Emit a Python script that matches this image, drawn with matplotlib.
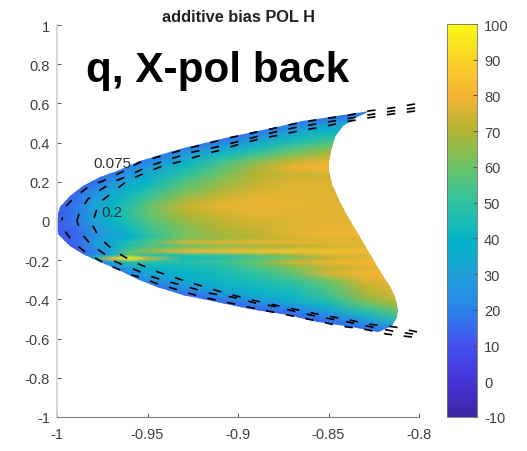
import matplotlib.pyplot as plt
from matplotlib.colors import LinearSegmentedColormap
from matplotlib.patches import Polygon
import numpy as np

plt.rcParams["font.family"] = ["Liberation Sans", "DejaVu Sans"]

title_text = "additive bias POL H"
big_label = "q, X-pol back"
x_ticks = [-1, -0.95, -0.9, -0.85, -0.8]
x_tick_labels = ["-1", "-0.95", "-0.9", "-0.85", "-0.8"]
y_ticks = [-1, -0.8, -0.6, -0.4, -0.2, 0, 0.2, 0.4, 0.6, 0.8, 1]
y_tick_labels = ["-1", "-0.8", "-0.6", "-0.4", "-0.2", "0", "0.2", "0.4", "0.6", "0.8", "1"]
cbar_ticks = [-10, 0, 10, 20, 30, 40, 50, 60, 70, 80, 90, 100]
cbar_tick_labels = ["-10", "0", "10", "20", "30", "40", "50", "60", "70", "80", "90", "100"]

# table of the colour values, one row per y_rows entry
x_cols = [-1.00, -0.99, -0.98, -0.97, -0.96, -0.95, -0.93, -0.91, -0.89, -0.87, -0.85, -0.83, -0.81, -0.80]
y_rows = [0.62, 0.58, 0.54, 0.50, 0.46, 0.42, 0.38, 0.34, 0.30, 0.27, 0.24, 0.20, 0.16, 0.12, 0.08, 0.04, 0.00,
          -0.04, -0.075, -0.09, -0.107, -0.13, -0.155, -0.175, -0.19, -0.21, -0.24, -0.27, -0.30, -0.34, -0.38,
          -0.42, -0.46, -0.50, -0.54, -0.58, -0.62]
bias = [
    [12, 12, 12, 12, 12, 12, 12, 12, 12, 12, 12, 12, 12, 12],
    [12, 12, 12, 12, 12, 12, 12, 12, 12, 12, 12, 14, 14, 14],
    [12, 12, 12, 12, 12, 12, 12, 12, 12, 12, 14, 22, 30, 30],
    [12, 12, 12, 12, 12, 12, 12, 12, 12, 18, 28, 34, 34, 34],
    [12, 12, 12, 12, 12, 12, 12, 12, 16, 30, 40, 44, 44, 44],
    [12, 12, 12, 12, 12, 12, 12, 15, 28, 42, 50, 50, 50, 50],
    [12, 12, 12, 12, 12, 12, 16, 28, 42, 52, 60, 60, 60, 60],
    [12, 12, 12, 12, 12, 15, 28, 42, 52, 62, 70, 70, 70, 70],
    [12, 12, 12, 12, 15, 22, 38, 52, 64, 74, 78, 78, 78, 78],
    [12, 12, 12, 15, 22, 30, 44, 57, 68, 79, 80, 80, 80, 80],
    [12, 12, 12, 18, 27, 34, 48, 60, 70, 74, 74, 74, 74, 74],
    [12, 12, 15, 25, 33, 40, 55, 65, 72, 76, 76, 76, 76, 76],
    [12, 12, 22, 32, 40, 46, 60, 68, 75, 77, 76, 76, 76, 76],
    [12, 16, 27, 36, 44, 52, 66, 74, 78, 77, 77, 77, 77, 77],
    [12, 18, 30, 40, 48, 58, 72, 78, 78, 78, 77, 76, 76, 76],
    [12, 18, 30, 40, 50, 58, 70, 75, 78, 77, 77, 77, 77, 77],
    [12, 18, 30, 40, 48, 55, 66, 72, 75, 76, 77, 77, 77, 77],
    [12, 15, 26, 34, 42, 52, 62, 70, 73, 76, 78, 78, 78, 78],
    [12, 14, 24, 30, 36, 48, 62, 67, 71, 78, 80, 80, 80, 80],
    [12, 14, 25, 33, 40, 50, 62, 67, 71, 73, 76, 76, 76, 76],
    [12, 15, 28, 35, 46, 54, 74, 77, 78, 78, 78, 78, 78, 78],
    [12, 12, 26, 36, 48, 54, 58, 64, 67, 71, 74, 76, 76, 76],
    [12, 12, 20, 30, 55, 66, 80, 82, 84, 84, 84, 82, 82, 82],
    [12, 12, 24, 40, 60, 45, 48, 52, 60, 67, 76, 76, 76, 76],
    [12, 12, 40, 82, 100, 76, 44, 46, 54, 62, 73, 76, 76, 76],
    [12, 12, 18, 35, 50, 48, 48, 52, 60, 73, 79, 80, 80, 80],
    [12, 12, 12, 18, 30, 38, 42, 46, 54, 62, 71, 76, 76, 76],
    [12, 12, 12, 12, 22, 32, 40, 44, 50, 58, 76, 80, 80, 80],
    [12, 12, 12, 12, 15, 26, 36, 42, 46, 52, 62, 76, 80, 80],
    [12, 12, 12, 12, 12, 14, 26, 36, 42, 46, 56, 71, 78, 78],
    [12, 12, 12, 12, 12, 12, 15, 25, 36, 42, 52, 68, 76, 76],
    [12, 12, 12, 12, 12, 12, 12, 14, 22, 33, 44, 60, 70, 70],
    [12, 12, 12, 12, 12, 12, 12, 12, 12, 18, 32, 48, 60, 60],
    [12, 12, 12, 12, 12, 12, 12, 12, 12, 12, 18, 32, 50, 50],
    [12, 12, 12, 12, 12, 12, 12, 12, 12, 12, 12, 18, 28, 28],
    [12, 12, 12, 12, 12, 12, 12, 12, 12, 12, 12, 12, 12, 12],
    [12, 12, 12, 12, 12, 12, 12, 12, 12, 12, 12, 12, 12, 12],
]

# outline of the filled area: right edge downwards, lower edge leftwards, upper edge rightwards
outline_x = [-0.8271, -0.8343, -0.8420, -0.8464, -0.8486, -0.8497, -0.8497, -0.8481, -0.8436, -0.8392, -0.8343,
             -0.8287, -0.8232, -0.8188, -0.8160, -0.8133, -0.8116, -0.8121, -0.8149, -0.8227,
             -0.8370, -0.8558, -0.8724, -0.8934, -0.9116, -0.9304, -0.9448, -0.9558, -0.9669, -0.9762, -0.9856,
             -0.9928, -0.9994, -1.0000, -1.0000, -0.9994, -0.9983, -0.9928, -0.9856, -0.9762, -0.9669, -0.9541,
             -0.9320, -0.9044, -0.8785, -0.8641, -0.8453]
outline_y = [0.561, 0.531, 0.485, 0.429, 0.357, 0.301, 0.255, 0.189, 0.097, 0.020, -0.056,
             -0.143, -0.230, -0.296, -0.332, -0.388, -0.449, -0.490, -0.536, -0.566,
             -0.541, -0.515, -0.480, -0.449, -0.413, -0.378, -0.337, -0.296, -0.245, -0.209, -0.168,
             -0.128, -0.066, -0.041, 0.000, 0.036, 0.071, 0.128, 0.179, 0.224, 0.255, 0.306,
             0.367, 0.429, 0.480, 0.510, 0.536]

# dashed curves, outer to inner
curve_a_x = [-0.8022, -0.8149, -0.8282, -0.8409, -0.8536, -0.8669, -0.8796, -0.8923, -0.9055, -0.9182, -0.9309,
             -0.9442, -0.9541, -0.9641, -0.9735, -0.9829, -0.9901, -0.9956, -0.9972, -0.9961, -0.9912, -0.9845,
             -0.9779, -0.9718, -0.9652, -0.9586, -0.9525, -0.9459, -0.9331, -0.9199, -0.9072, -0.8945, -0.8812,
             -0.8696, -0.8564, -0.8436, -0.8309, -0.8177, -0.8039]
curve_a_y = [0.597, 0.577, 0.561, 0.536, 0.520, 0.500, 0.474, 0.449, 0.423, 0.393, 0.362,
             0.327, 0.301, 0.250, 0.209, 0.173, 0.122, 0.071, 0.010, -0.046, -0.107, -0.158,
             -0.194, -0.224, -0.250, -0.276, -0.291, -0.316, -0.352, -0.388, -0.413, -0.439, -0.464,
             -0.485, -0.510, -0.536, -0.551, -0.577, -0.592]
curve_b_x = [-0.8022, -0.8149, -0.8282, -0.8409, -0.8536, -0.8669, -0.8796, -0.8862, -0.8989, -0.9116, -0.9249,
             -0.9376, -0.9503, -0.9608, -0.9691, -0.9762, -0.9829, -0.9873, -0.9890, -0.9867, -0.9812, -0.9746,
             -0.9685, -0.9619, -0.9552, -0.9486, -0.9420, -0.9293, -0.9166, -0.9033, -0.8906, -0.8779, -0.8674,
             -0.8547, -0.8420, -0.8287, -0.8149, -0.8033]
curve_b_y = [0.577, 0.561, 0.541, 0.520, 0.500, 0.480, 0.454, 0.439, 0.408, 0.378, 0.352,
             0.316, 0.276, 0.230, 0.199, 0.158, 0.112, 0.051, 0.000, -0.061, -0.122, -0.163,
             -0.204, -0.230, -0.255, -0.281, -0.301, -0.332, -0.367, -0.388, -0.418, -0.439, -0.464,
             -0.490, -0.510, -0.536, -0.561, -0.577]
curve_c_x = [-0.8022, -0.8149, -0.8282, -0.8409, -0.8536, -0.8669, -0.8796, -0.8862, -0.8989, -0.9116, -0.9182,
             -0.9309, -0.9431, -0.9552, -0.9635, -0.9696, -0.9762, -0.9779, -0.9801, -0.9801, -0.9768, -0.9702,
             -0.9635, -0.9575, -0.9508, -0.9442, -0.9309, -0.9182, -0.9055, -0.8923, -0.8796, -0.8669, -0.8536,
             -0.8409, -0.8282, -0.8133, -0.8011]
curve_c_y = [0.561, 0.546, 0.526, 0.505, 0.480, 0.459, 0.434, 0.423, 0.393, 0.357, 0.342,
             0.306, 0.276, 0.230, 0.189, 0.143, 0.097, 0.061, 0.000, -0.026, -0.082, -0.138,
             -0.179, -0.209, -0.235, -0.260, -0.301, -0.337, -0.372, -0.403, -0.429, -0.454, -0.480,
             -0.500, -0.526, -0.541, -0.566]

parula_stops = [(0.00, "#3f26a4"), (0.09, "#4433d8"), (0.18, "#4650f0"), (0.27, "#2c82ea"), (0.36, "#1f9fd8"),
                (0.45, "#03b4c8"), (0.55, "#32c3a0"), (0.64, "#6ec364"), (0.73, "#b4b432"), (0.82, "#f5b432"),
                (0.91, "#fad228"), (1.00, "#faf914")]


def plot_curve(ax, cx, cy):
    # both arms start at the right so the dashes of the three curves stay in step
    tip = int(np.argmin(cx))
    for arm_x, arm_y in [(cx[:tip + 1], cy[:tip + 1]), (cx[tip:][::-1], cy[tip:][::-1])]:
        ax.plot(arm_x, arm_y, color="black", lw=1.2, dashes=(5, 7), dash_capstyle="butt")


def main():
    cmap = LinearSegmentedColormap.from_list("bias", parula_stops)
    fig = plt.figure(figsize=(5.27, 4.52), dpi=100)
    ax = fig.add_axes([57 / 527, 34 / 452, 362 / 527, 392 / 452])
    cax = fig.add_axes([447 / 527, 34 / 452, 30 / 527, 393 / 452])

    mesh = ax.pcolormesh(x_cols, y_rows, np.array(bias), cmap=cmap, vmin=-10, vmax=100, shading="gouraud")
    outline = Polygon(np.column_stack([outline_x, outline_y]), closed=True, transform=ax.transData,
                      facecolor="none", edgecolor="none")
    ax.add_patch(outline)
    mesh.set_clip_path(outline)

    plot_curve(ax, curve_a_x, curve_a_y)
    plot_curve(ax, curve_b_x, curve_b_y)
    plot_curve(ax, curve_c_x, curve_c_y)

    ax.set_xlim(-1, -0.8)
    ax.set_ylim(-1, 1)
    ax.set_xticks(x_ticks, x_tick_labels)
    ax.set_yticks(y_ticks, y_tick_labels)
    ax.tick_params(direction="in", length=3, width=0.7, color="#555555", labelcolor="#404040", labelsize=10.5)
    ax.tick_params(axis="x", pad=7)
    ax.tick_params(axis="y", pad=5)
    ax.spines["top"].set_visible(False)
    ax.spines["right"].set_visible(False)
    ax.spines["left"].set_color("#d0d0d0")
    ax.spines["left"].set_linewidth(1.2)
    ax.spines["bottom"].set_color("#808080")
    ax.set_title(title_text, fontsize=11.8, fontweight="bold", color="#222222", pad=3)

    ax.text(-0.984, 0.714, big_label, fontsize=30.4, fontweight="bold", color="black", va="baseline", ha="left")
    ax.text(-0.980, 0.296, "0.075", fontsize=10.8, color="#303030", va="center", ha="left")
    ax.text(-0.9757, 0.046, "0.2", fontsize=10.8, color="#303030", va="center", ha="left")

    cbar = fig.colorbar(mesh, cax=cax)
    cbar.set_ticks(cbar_ticks, labels=cbar_tick_labels)
    cbar.ax.tick_params(direction="in", length=3, width=0.7, color="#555555", labelcolor="#404040", labelsize=10.5, pad=5)
    cbar.outline.set_edgecolor("#707070")
    cbar.outline.set_linewidth(0.6)

    fig.savefig("out.png", dpi=100)


if __name__ == "__main__":
    main()
